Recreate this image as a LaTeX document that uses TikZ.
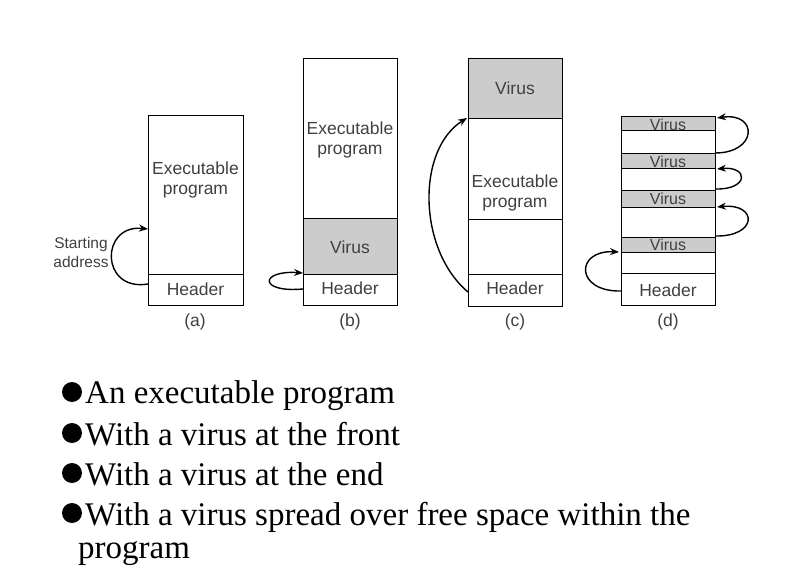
\documentclass[tikz,border=0pt]{standalone}
\usepackage{fontspec}
\setmainfont{Liberation Serif}
\newfontfamily\figfont{Liberation Sans}
\usetikzlibrary{arrows.meta}

\begin{document}
\begin{tikzpicture}[x=1pt,y=-1pt,
  seg/.style={draw=black,line width=1.3pt,inner sep=0pt,anchor=north west,minimum width=#1},
  lbl/.style={text=kText,font=\figfont\fontsize{17.5}{20}\selectfont,align=center,inner sep=0pt},
  hop/.style={-{Stealth[length=9pt,width=7pt]},line width=1.4pt},
  item/.style={font=\fontsize{33}{39}\selectfont,anchor=base west,inner sep=0pt},
  dot/.style={circle,fill=black,minimum size=20pt,inner sep=0pt}]
  \definecolor{kText}{gray}{0.25}
  \definecolor{kVirus}{gray}{0.8}

  \useasboundingbox (0,0) rectangle (796,588);

  % (a) plain program
  \node[seg=95,minimum height=159] (aprog) at (148,115) {};
  \node[seg=95,minimum height=31] (ahdr) at (148,274) {};
  \node[lbl] (aprogt) at (195.5,180) {Executable\\program};
  \node[lbl] (ahdrt) at (195.5,289) {Header};
  \node[lbl,font=\figfont\fontsize{15.5}{19}\selectfont] (astart) at (81,252) {Starting\\address};
  \coordinate (aS) at (148,284);
  \coordinate (aE) at (148,229);
  \draw[hop] (aS) .. controls (100,292) and (100,224) .. (aE);

  % (b) virus at the front
  \node[seg=94,minimum height=160] (bprog) at (303,58) {};
  \node[seg=94,minimum height=56,fill=kVirus] (bvir) at (303,218) {};
  \node[seg=94,minimum height=31] (bhdr) at (303,274) {};
  \node[lbl] (bprogt) at (350,140) {Executable\\program};
  \node[lbl] (bvirt) at (350,247) {Virus};
  \node[lbl] (bhdrt) at (350,288) {Header};
  \coordinate (bS) at (303,289);
  \coordinate (bE) at (303,273);
  \draw[hop] (bS) .. controls (258,293) and (260,270) .. (bE);

  % (c) virus at the end
  \node[seg=94,minimum height=60,fill=kVirus] (cvir) at (468,58) {};
  \node[seg=94,minimum height=101] (cprog) at (468,118) {};
  \node[seg=94,minimum height=55] (cfree) at (468,219) {};
  \node[seg=94,minimum height=32] (chdr) at (468,274) {};
  \node[lbl] (cvirt) at (515,88) {Virus};
  \node[lbl] (cprogt) at (515,193) {Executable\\program};
  \node[lbl] (chdrt) at (515,288) {Header};
  \coordinate (cS) at (468,292);
  \coordinate (cE) at (467,118);
  \draw[hop] (cS) .. controls (418,250) and (416,150) .. (cE);

  % (d) virus spread over free space
  \node[seg=94,minimum height=14,fill=kVirus] (dv1) at (621,116) {};
  \node[seg=94,minimum height=23] (dw1) at (621,130) {};
  \node[seg=94,minimum height=15,fill=kVirus] (dv2) at (621,153) {};
  \node[seg=94,minimum height=22] (dw2) at (621,168) {};
  \node[seg=94,minimum height=17,fill=kVirus] (dv3) at (621,190) {};
  \node[seg=94,minimum height=30] (dw3) at (621,207) {};
  \node[seg=94,minimum height=15,fill=kVirus] (dv4) at (621,237) {};
  \node[seg=94,minimum height=21] (dw4) at (621,252) {};
  \node[seg=94,minimum height=32] (dhdr) at (621,273) {};
  \foreach \n/\y in {1/125,2/162,3/199,4/245}
    \node[lbl,font=\figfont\fontsize{16}{18}\selectfont] (dv\n t) at (668,\y) {Virus};
  \node[lbl] (dhdrt) at (668,290) {Header};
  \coordinate (d1S) at (715,153);
  \coordinate (d1E) at (717,118);
  \coordinate (d2S) at (715,189);
  \coordinate (d2E) at (717,169);
  \coordinate (d3S) at (715,236);
  \coordinate (d3E) at (717,207);
  \coordinate (d4S) at (621,291);
  \coordinate (d4E) at (619,252);
  \draw[hop] (d1S) .. controls (758,153) and (758,112) .. (d1E);
  \draw[hop] (d2S) .. controls (749,190) and (749,166) .. (d2E);
  \draw[hop] (d3S) .. controls (758,237) and (758,203) .. (d3E);
  \draw[hop] (d4S) .. controls (575,292) and (575,250) .. (d4E);

  \foreach \c/\x in {a/195,b/350,c/515,d/668}
    \node[lbl] (cap\c) at (\x,322) {(\c)};

  % list below
  \node[dot] (b1) at (72,392) {};
  \node[dot] (b2) at (72,433) {};
  \node[dot] (b3) at (72,473) {};
  \node[dot] (b4) at (72,513) {};
  \node[item] (t1) at (85,403) {An executable program};
  \node[item] (t2) at (85,445) {With a virus at the front};
  \node[item] (t3) at (85,485) {With a virus at the end};
  \node[item] (t4) at (85,525) {With a virus spread over free space within the};
  \node[item] (t5) at (78,558) {program};

\end{tikzpicture}
\end{document}
